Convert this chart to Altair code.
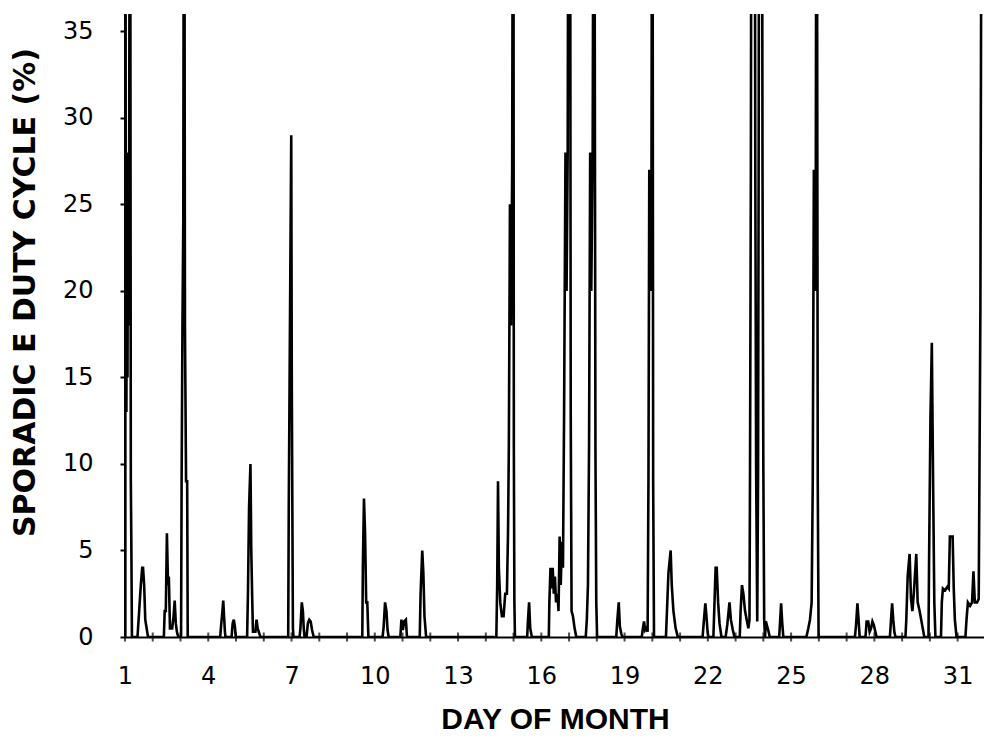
import altair as alt
import pandas as pd

# Hourly-ish sporadic E duty cycle samples (values > 36 run off the top)
day_a = [1.000, 1.004, 1.025, 1.05, 1.07, 1.09, 1.11, 1.13, 1.15, 1.18, 1.21, 1.23, 1.25,
         1.45, 1.51, 1.57, 1.62, 1.65, 1.69, 1.73, 1.83,
         2.40, 2.43, 2.47, 2.51, 2.55, 2.58, 2.62, 2.70, 2.75, 2.79, 2.83, 2.87, 2.92,
         3.02, 3.04, 3.07, 3.10, 3.13, 3.16, 3.20, 3.24, 3.26,
         4.43, 4.47, 4.51, 4.54, 4.57, 4.60, 4.62,
         4.84, 4.88, 4.92, 4.96, 4.99,
         5.40, 5.43, 5.47, 5.52, 5.55, 5.58, 5.61, 5.70, 5.74, 5.78, 5.84, 5.88,
         6.88, 6.90, 6.93, 6.96, 6.99, 7.01, 7.03, 7.05, 7.07,
         7.29, 7.32, 7.37, 7.41, 7.44, 7.47,
         7.54, 7.59, 7.64, 7.69, 7.74, 7.80]
duty_a = [0, 60, 28, 13, 27, 15, 28, 18, 27, 60, 9, 5, 0,
          0, 1.5, 3, 4, 4, 3, 1, 0,
          0, 1.5, 1.5, 6, 3, 3.5, 0.5, 0.5, 1.2, 2.1, 0.8, 0.3, 0,
          0, 9, 18, 24, 60, 18, 9, 9, 0,
          0, 0.8, 1.5, 2.1, 1.2, 0.3, 0,
          0, 0.8, 1.0, 0.6, 0,
          0, 2.5, 7.5, 10, 5, 2.5, 0.3, 0.3, 1.0, 0.5, 0.2, 0,
          0, 7.4, 14.7, 22, 29, 14.7, 7.4, 0.5, 0,
          0, 0.5, 2, 1.5, 0.5, 0,
          0, 0.8, 1.0, 0.9, 0.4, 0]

day_b = [9.55, 9.57, 9.61, 9.65, 9.69, 9.73, 9.77,
         10.28, 10.32, 10.37, 10.42, 10.46, 10.50,
         10.92, 10.96, 11.01, 11.06, 11.12, 11.16,
         11.62, 11.65, 11.71, 11.75, 11.79, 11.85,
         14.38, 14.41, 14.44, 14.47, 14.52, 14.58, 14.64, 14.70, 14.76, 14.80, 14.83, 14.87,
         14.91, 14.95, 14.99, 15.01, 15.03, 15.05,
         15.49, 15.52, 15.56, 15.60, 15.66]
duty_b = [0, 4, 8, 6, 2, 2, 0,
          0, 0.6, 2, 1.5, 0.4, 0,
          0, 1.0, 0.4, 0.9, 1.0, 0,
          0, 2.5, 5, 3.7, 1.2, 0,
          0, 3, 9, 4, 2, 1.2, 1.2, 2.5, 2.5, 6, 11, 25,
          18, 27, 60, 11, 2, 0,
          0, 1, 2, 0.5, 0]

day_c = [16.27, 16.29, 16.33, 16.37, 16.41, 16.45, 16.49, 16.53, 16.58, 16.62, 16.66, 16.70,
         16.74, 16.78, 16.82, 16.87, 16.91, 16.95, 16.99, 17.03, 17.06, 17.09, 17.14, 17.20, 17.26,
         17.60, 17.64, 17.68, 17.72, 17.76, 17.80, 17.85, 17.90, 17.95, 17.98, 18.01,
         18.70, 18.74, 18.79, 18.83, 18.88, 18.92,
         19.62, 19.66, 19.70, 19.74, 19.78, 19.83, 19.86, 19.89, 19.93, 19.97, 20.00, 20.03, 20.06,
         20.49, 20.52, 20.58, 20.66, 20.70, 20.76, 20.84, 20.92]
duty_c = [0, 2, 4, 2.8, 4, 2.5, 3.5, 2, 2.5, 1.5, 5.8, 3,
          5.5, 4, 12.8, 28, 20, 28, 60, 60, 12.8, 1.5, 1.2, 0.5, 0,
          0, 1, 3, 11, 28, 20, 28, 60, 11, 2, 0,
          0, 1, 2, 0.6, 0.2, 0,
          0, 0.5, 0.9, 0.4, 0.5, 0.3, 9, 27, 20, 27, 60, 9, 0,
          0, 1.2, 3.7, 5, 3, 1.5, 0.5, 0]

day_d = [21.81, 21.85, 21.91, 21.95, 21.99, 22.02,
         22.20, 22.23, 22.28, 22.32, 22.37, 22.42, 22.49,
         22.64, 22.70, 22.78, 22.83, 22.90, 22.96,
         23.15, 23.18, 23.23, 23.28, 23.34, 23.40, 23.46,
         23.50, 23.52, 23.55, 23.58, 23.68, 23.71, 23.74, 23.78, 23.81, 23.83, 23.86, 23.94,
         23.97, 24.00, 24.03, 24.06,
         24.09, 24.14, 24.19, 24.23,
         24.57, 24.60, 24.64, 24.68, 24.72,
         25.55, 25.62, 25.68, 25.74, 25.78, 25.82, 25.86, 25.89, 25.92, 25.96, 25.99]
duty_d = [0, 0.8, 1.95, 1.2, 0.3, 0,
          0, 1.5, 4, 4, 2, 0.8, 0,
          0, 0.7, 2, 1, 0.4, 0,
          0, 1.5, 3, 2.5, 1.5, 1.0, 0.5,
          1, 9.6, 27, 60, 60, 27, 9.6, 0.9, 9.6, 27, 60, 60,
          27, 9.6, 1, 0,
          0.9, 0.6, 0.3, 0,
          0, 0.8, 1.95, 0.8, 0,
          0, 0.5, 1, 2, 9, 27, 20, 27, 60, 9, 0]

day_e = [27.30, 27.34, 27.39, 27.43, 27.47,
         27.68, 27.72, 27.78, 27.83, 27.88, 27.93, 27.98, 28.05, 28.08,
         28.56, 28.60, 28.64, 28.68, 28.72, 28.76,
         29.12, 29.15, 29.20, 29.27, 29.32, 29.37, 29.42, 29.51, 29.56, 29.63, 29.72, 29.80,
         29.95, 29.97, 30.02, 30.07, 30.12, 30.16, 30.20,
         30.40, 30.43, 30.47, 30.55, 30.63, 30.68, 30.72, 30.82, 30.86, 30.90, 30.96,
         31.28, 31.32, 31.37, 31.45, 31.52, 31.57, 31.62, 31.70, 31.76, 31.82, 31.88, 32.00]
duty_e = [0, 0.7, 1.95, 1.0, 0,
          0, 0.9, 0.9, 0.3, 0.5, 0.9, 0.7, 0.2, 0,
          0, 1, 1.95, 1, 0.3, 0,
          0, 1, 3.5, 4.8, 2.2, 1.5, 2.5, 4.8, 2, 1.5, 0.7, 0,
          0, 4.2, 12.6, 17, 8.3, 2, 0,
          0, 2, 2.8, 2.7, 2.9, 2.8, 5.8, 5.8, 2.8, 1, 0,
          0, 1, 2, 1.8, 2, 3.8, 2, 2, 2.2, 19, 60, 60]

tick_days = list(range(1, 32))
label_days = [1, 4, 7, 10, 13, 16, 19, 22, 25, 28, 31]
y_ticks = [0, 5, 10, 15, 20, 25, 30, 35]

df = pd.DataFrame({
    "day": day_a + day_b + day_c + day_d + day_e,
    "duty": duty_a + duty_b + duty_c + duty_d + duty_e,
})
df["order"] = range(len(df))
ticks_df = pd.DataFrame({"day": tick_days, "duty": [0] * len(tick_days)})

x_scale = alt.Scale(domain=[1, 31.95], nice=False, zero=False)
y_scale = alt.Scale(domain=[0, 36], nice=False)

x_enc = alt.X("day:Q", scale=x_scale,
              axis=alt.Axis(values=label_days, title="DAY OF MONTH"))
y_enc = alt.Y("duty:Q", scale=y_scale,
              axis=alt.Axis(values=y_ticks, title="SPORADIC E DUTY CYCLE (%)"))

line = alt.Chart(df).mark_line(color="black", strokeWidth=2.6, clip=True, interpolate="linear").encode(
    x=x_enc,
    y=y_enc,
    order="order:Q",
)

day_ticks = alt.Chart(ticks_df).mark_tick(color="black", thickness=2, size=9, orient="vertical").encode(
    x=x_enc,
    y=y_enc,
)

# vertical axis line drawn from the same y scale (0 to 36) at day 1
frame_df = pd.DataFrame({"day": [1, 1], "duty": [0, 36]})
y_line = alt.Chart(frame_df).mark_line(color="black", strokeWidth=2).encode(x=x_enc, y=y_enc)

chart = alt.layer(line, day_ticks, y_line).properties(
    width=859,
    height=623,
    background="white",
    autosize=alt.AutoSizeParams(type="none"),
    padding={"left": 117, "top": 6, "right": 0, "bottom": 100},
).configure_view(stroke=None).configure_axis(
    grid=False,
    domainColor="black",
    domainWidth=2,
    tickColor="black",
    tickWidth=2,
    labelColor="black",
    labelFont="DejaVu Sans",
    labelFontSize=24,
    labelOverlap=False,
    labelFlush=False,
    titleColor="black",
    titleFontWeight="bold",
    titleFontSize=30,
).configure_axisX(
    ticks=False,
    labelPadding=27,
    titleFont="Liberation Sans",
    titleX=430,
    titleY=91,
    titleBaseline="alphabetic",
    titleAlign="center",
).configure_axisY(
    tickSize=5,
    labelPadding=27,
    titleFont="DejaVu Sans",
    titleAngle=270,
    titleX=-85,
    titleY=278,
    titleAlign="center",
    titleBaseline="bottom",
)

chart.save("out.html", embed_options={"renderer": "svg", "actions": False})
